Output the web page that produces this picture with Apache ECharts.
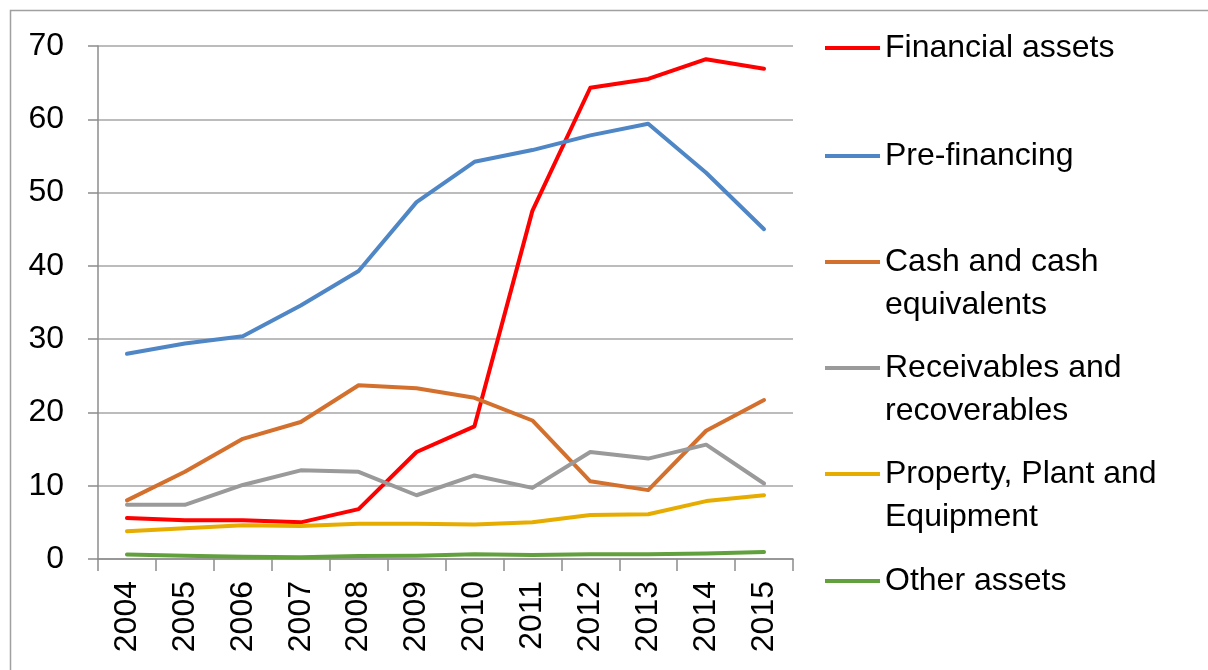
<!DOCTYPE html>
<html>
<head>
<meta charset="utf-8">
<script src="https://cdn.jsdelivr.net/npm/echarts@6/dist/echarts.min.js"></script>
<style>
  html, body { margin: 0; padding: 0; background: #fff; }
  #chart { width: 1208px; height: 670px; }
</style>
</head>
<body>
<div id="chart"></div>
<script>
const years = ['2004', '2005', '2006', '2007', '2008', '2009', '2010', '2011', '2012', '2013', '2014', '2015']
const yTicks = [0, 10, 20, 30, 40, 50, 60, 70]

const financialAssets = [5.6, 5.3, 5.3, 5.0, 6.8, 14.6, 18.1, 47.5, 64.3, 65.5, 68.2, 66.9]
const preFinancing = [28.0, 29.4, 30.4, 34.6, 39.3, 48.7, 54.2, 55.8, 57.8, 59.4, 52.7, 45.0]
const cashEquivalents = [8.0, 11.9, 16.4, 18.7, 23.7, 23.3, 22.0, 18.9, 10.6, 9.4, 17.5, 21.7]
const receivables = [7.4, 7.4, 10.1, 12.1, 11.9, 8.7, 11.4, 9.7, 14.6, 13.7, 15.6, 10.3]
const ppe = [3.8, 4.2, 4.6, 4.5, 4.8, 4.8, 4.7, 5.0, 6.0, 6.1, 7.9, 8.7]
const otherAssets = [0.6, 0.45, 0.3, 0.25, 0.4, 0.45, 0.65, 0.55, 0.65, 0.65, 0.75, 0.95]

const seriesDefs = [
  { name: 'Financial assets', label: 'Financial assets', data: financialAssets, color: '#ff0000', y: 48 },
  { name: 'Pre-financing', label: 'Pre-financing', data: preFinancing, color: '#4f86c6', y: 156 },
  { name: 'Cash and cash equivalents', label: 'Cash and cash\nequivalents', data: cashEquivalents, color: '#d4702e', y: 262 },
  { name: 'Receivables and recoverables', label: 'Receivables and\nrecoverables', data: receivables, color: '#9a9a9a', y: 368 },
  { name: 'Property, Plant and Equipment', label: 'Property, Plant and\nEquipment', data: ppe, color: '#e6ac00', y: 474 },
  { name: 'Other assets', label: 'Other assets', data: otherAssets, color: '#62a03e', y: 581 }
]

const fontFamily = '"Liberation Sans", Arial, sans-serif'
const lineH = 43

const chart = echarts.init(document.getElementById('chart'))

// one legend per entry so each can sit at its own height;
// two-line labels get an empty first line so the swatch lines up with the first text line
const legends = seriesDefs.map(s => {
  const twoLines = s.label.indexOf('\n') >= 0
  return {
    data: [s.name],
    left: 825,
    top: twoLines ? s.y - lineH * 1.5 : s.y - lineH / 2,
    orient: 'vertical',
    padding: 0,
    icon: 'rect',
    itemWidth: 55,
    itemHeight: 3.8,
    itemGap: 0,
    selectedMode: false,
    formatter: () => (twoLines ? '\n' + s.label : s.label),
    textStyle: {
      fontFamily,
      fontSize: 32,
      color: '#000',
      lineHeight: lineH
    }
  }
})

const option = {
  animation: false,
  graphic: [{
    type: 'rect',
    shape: { x: 10.5, y: 10.5, width: 1220, height: 680 },
    style: { fill: 'none', stroke: '#a0a0a0', lineWidth: 1.5 },
    silent: true
  }],
  legend: legends,
  grid: { left: 98, right: 415, top: 46, bottom: 111 },
  xAxis: {
    type: 'category',
    data: years,
    boundaryGap: true,
    axisLine: { lineStyle: { color: '#8c8c8c', width: 1.5 } },
    axisTick: { show: true, length: 12, alignWithLabel: false, lineStyle: { color: '#8c8c8c', width: 1.5 } },
    axisLabel: { rotate: 90, margin: 22, fontFamily, fontSize: 32, color: '#000', interval: 0 }
  },
  yAxis: {
    type: 'value',
    min: yTicks[0],
    max: yTicks[yTicks.length - 1],
    interval: 10,
    axisLine: { show: true, lineStyle: { color: '#8c8c8c', width: 1.5 } },
    axisTick: { show: true, length: 10, lineStyle: { color: '#8c8c8c', width: 1.5 } },
    splitLine: { lineStyle: { color: '#a6a6a6', width: 1.5 } },
    axisLabel: { margin: 34, fontFamily, fontSize: 32, color: '#000' }
  },
  series: seriesDefs.map(s => ({
    name: s.name,
    type: 'line',
    data: s.data,
    symbol: 'none',
    smooth: false,
    itemStyle: { color: s.color },
    lineStyle: { color: s.color, width: 4, cap: 'round', join: 'round' }
  }))
}

chart.setOption(option)
window.addEventListener('resize', () => chart.resize())
</script>
</body>
</html>
